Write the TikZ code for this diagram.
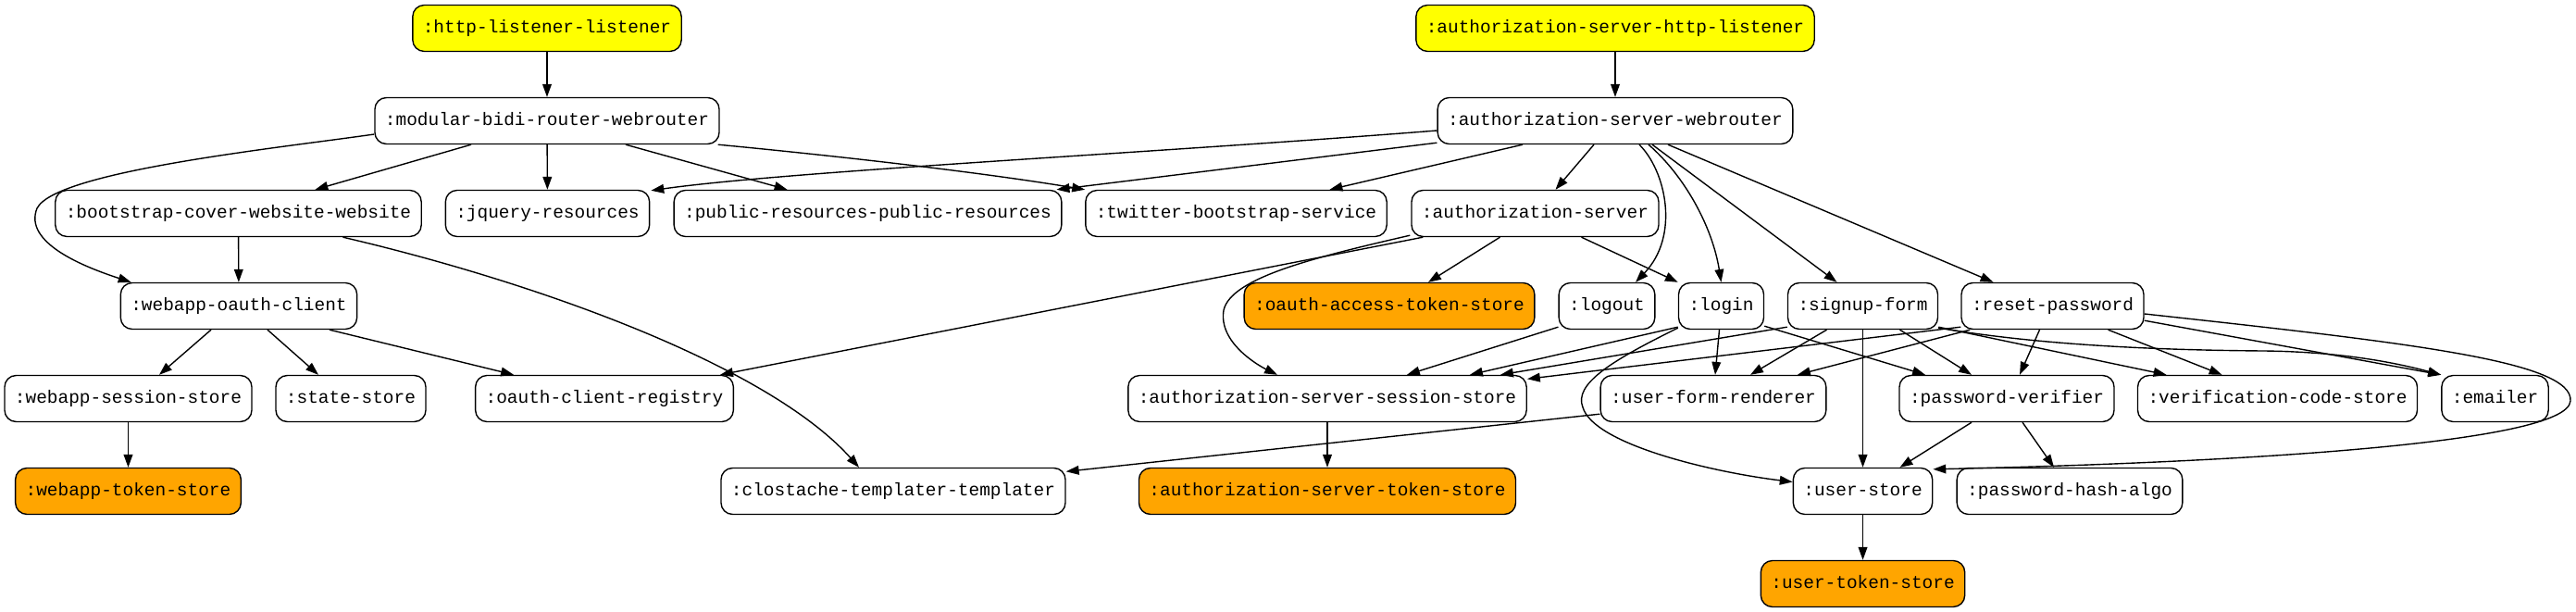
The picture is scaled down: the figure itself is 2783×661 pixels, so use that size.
\documentclass[tikz,border=0pt]{standalone}
\usepackage{fontspec}
\setmonofont{Liberation Mono}
\usetikzlibrary{arrows.meta,calc}
\definecolor{gvyellow}{RGB}{255,255,0}
\definecolor{gvorange}{RGB}{255,165,0}
\begin{document}
\begin{tikzpicture}[x=0.72pt,y=-0.72pt,
  gvbox/.style={draw, line width=1pt, rounded corners=9pt, fill=white,
    minimum height=36pt, minimum width=54pt, inner xsep=7.92pt, inner ysep=0pt,
    font=\ttfamily\fontsize{14}{16}\selectfont, text height=9pt, text depth=1.5pt},
  entry/.style={gvbox, fill=gvyellow},
  store/.style={gvbox, fill=gvorange},
  dep/.style={line width=1pt, -{Triangle[length=10pt,width=7pt]}}]
\fill[white] (0,0) rectangle (2783,661);
\useasboundingbox (0,0) rectangle (2783,661);
% row 0
\node[entry] (hl) at (591,30.5) {:http-listener-listener};
\node[entry] (ahl) at (1745,30.5) {:authorization-server-http-listener};
% row 1
\node[gvbox] (mr) at (591,130.5) {:modular-bidi-router-webrouter};
\node[gvbox] (awr) at (1745,130.5) {:authorization-server-webrouter};
% row 2
\node[gvbox] (bc) at (257.5,230.5) {:bootstrap-cover-website-website};
\node[gvbox] (jq) at (591.5,230.5) {:jquery-resources};
\node[gvbox] (pr) at (937.5,230.5) {:public-resources-public-resources};
\node[gvbox] (tb) at (1335.5,230.5) {:twitter-bootstrap-service};
\node[gvbox] (as) at (1658.5,230.5) {:authorization-server};
% row 3
\node[gvbox] (woc) at (258,330.5) {:webapp-oauth-client};
\node[store] (oat) at (1501,330.5) {:oauth-access-token-store};
\node[gvbox] (lo) at (1736,330.5) {:logout};
\node[gvbox] (li) at (1859.5,330.5) {:login};
\node[gvbox] (sf) at (2012.5,330.5) {:signup-form};
\node[gvbox] (rp) at (2217.5,330.5) {:reset-password};
% row 4
\node[gvbox] (wss) at (138.5,430.5) {:webapp-session-store};
\node[gvbox] (ss) at (379,430.5) {:state-store};
\node[gvbox] (ocr) at (653,430.5) {:oauth-client-registry};
\node[gvbox] (ass) at (1434,430.5) {:authorization-server-session-store};
\node[gvbox] (ufr) at (1851,430.5) {:user-form-renderer};
\node[gvbox] (pv) at (2168,430.5) {:password-verifier};
\node[gvbox] (vcs) at (2460.5,430.5) {:verification-code-store};
\node[gvbox] (em) at (2695.5,430.5) {:emailer};
% row 5
\node[store] (wts) at (138.5,530.5) {:webapp-token-store};
\node[gvbox] (ct) at (965,530.5) {:clostache-templater-templater};
\node[store] (ats) at (1434,530.5) {:authorization-server-token-store};
\node[gvbox] (us) at (2012.5,530.5) {:user-store};
\node[gvbox] (pha) at (2236,530.5) {:password-hash-algo};
% row 6
\node[store] (uts) at (2012.5,630.5) {:user-token-store};

% edges
\draw[dep] (hl) -- (mr);
\draw[dep] (ahl) -- (awr);
\draw[dep] ($(mr.west)+(0,14.5)$) .. controls (300,160) and (60,185) .. (40,225) .. controls (25,262) and (90,288) .. ($(woc.north west)+(12,0)$);
\draw[dep] ($(mr.south)+(-82,0)$) -- ($(bc.north)+(83,0)$);
\draw[dep] (mr) -- (jq);
\draw[dep] ($(mr.south)+(85,0)$) -- ($(pr.north)+(-87,0)$);
\draw[dep] ($(mr.south east)+(-2,0)$) .. controls (900,168) and (1060,186) .. (tb.north west);

\draw[dep] ($(awr.west)+(0,10.5)$) .. controls (1250,165) and (850,185) .. ($(jq.north east)+(1,1)$);
\draw[dep] ($(awr.south west)+(0,-2)$) -- ($(pr.north east)+(-6,0)$);
\draw[dep] ($(awr.south)+(-100,0)$) -- ($(tb.north)+(101,0)$);
\draw[dep] ($(awr.south)+(-23,0)$) -- ($(as.north)+(22,0)$);
\draw[dep] ($(awr.south)+(26,0)$) .. controls (1800,185) and (1815,255) .. ($(lo.north)+(31,0)$);
\draw[dep] ($(awr.south)+(36,0)$) .. controls (1820,190) and (1850,245) .. (li.north);
\draw[dep] ($(awr.south)+(40,0)$) -- ($(sf.north)+(-28,0)$);
\draw[dep] ($(awr.south)+(57,0)$) -- ($(rp.north)+(-64,0)$);

\draw[dep] (bc) -- (woc);
\draw[dep] ($(bc.south)+(113,0)$) .. controls (580,305) and (830,395) .. ($(ct.north)+(-37,0)$);

\draw[dep] ($(as.south west)+(13,0)$) -- ($(ocr.north east)+(-15,0)$);
\draw[dep] ($(as.south west)+(-1,-2)$) .. controls (1420,278) and (1330,300) .. (1322,335) .. controls (1316,370) and (1360,395) .. ($(ass.north)+(-54,0)$);
\draw[dep] ($(as.south)+(-38,0)$) -- ($(oat.north)+(42,0)$);
\draw[dep] ($(as.south)+(50,0)$) -- (li.north west);

\draw[dep] ($(woc.south)+(-30,0)$) -- ($(wss.north)+(33.5,0)$);
\draw[dep] ($(woc.south)+(31,0)$) -- ($(ss.north)+(-35,0)$);
\draw[dep] ($(woc.south)+(98,0)$) -- ($(ocr.north)+(-98,0)$);
\draw[dep] (wss) -- (wts);

\draw[dep] ($(lo.south west)+(0,-3)$) -- ($(ass.north)+(86,0)$);

\draw[dep] ($(li.south west)+(0,-3)$) -- ($(ass.north)+(154,0)$);
\draw[dep] ($(li.south)+(-2,0)$) -- ($(ufr.north)+(2,0)$);
\draw[dep] ($(li.south east)+(0,-4)$) -- ($(pv.north)+(-88,0)$);
\draw[dep] ($(li.south west)+(0,-2)$) .. controls (1740,390) and (1700,415) .. (1710,440) .. controls (1722,480) and (1850,510) .. ($(us.west)+(0,-10)$);

\draw[dep] ($(sf.south west)+(0,-3)$) -- ($(ass.north)+(187,0)$);
\draw[dep] ($(sf.south)+(-39,0)$) -- ($(ufr.north)+(40,0)$);
\draw[dep] ($(sf.south)+(40,0)$) -- ($(pv.north)+(-38,0)$);
\draw[dep] (sf) -- (us);
\draw[dep] ($(sf.south east)+(0,-3)$) -- ($(vcs.north)+(-120,0)$);
\draw[dep] ($(sf.south east)+(0,-2)$) .. controls (2200,372) and (2320,378) .. (2445,379) .. controls (2540,380) and (2600,395) .. (em.north west);

\draw[dep] ($(rp.south west)+(0,-3)$) -- ($(ass.north east)+(0,4.5)$);
\draw[dep] ($(rp.south west)+(10,0)$) -- ($(ufr.north)+(91,0)$);
\draw[dep] ($(rp.south)+(-14,0)$) -- ($(pv.north)+(14,0)$);
\draw[dep] ($(rp.south)+(60,0)$) -- ($(vcs.north)+(-60,0)$);
\draw[dep] ($(rp.south east)+(0,-10)$) -- (em.north west);
\draw[dep] ($(rp.east)+(0,8.5)$) .. controls (2600,370) and (2780,390) .. (2777,433) .. controls (2774,480) and (2400,500) .. ($(us.north east)+(0,2)$);

\draw[dep] ($(pv.south)+(-38,0)$) -- ($(us.north)+(40,0)$);
\draw[dep] ($(pv.south)+(17,0)$) -- ($(pha.north)+(-17,0)$);
\draw[dep] ($(ufr.south west)+(0,-9)$) -- ($(ct.north east)+(0,4.5)$);
\draw[dep] (ass) -- (ats);
\draw[dep] (us) -- (uts);
\end{tikzpicture}
\end{document}
